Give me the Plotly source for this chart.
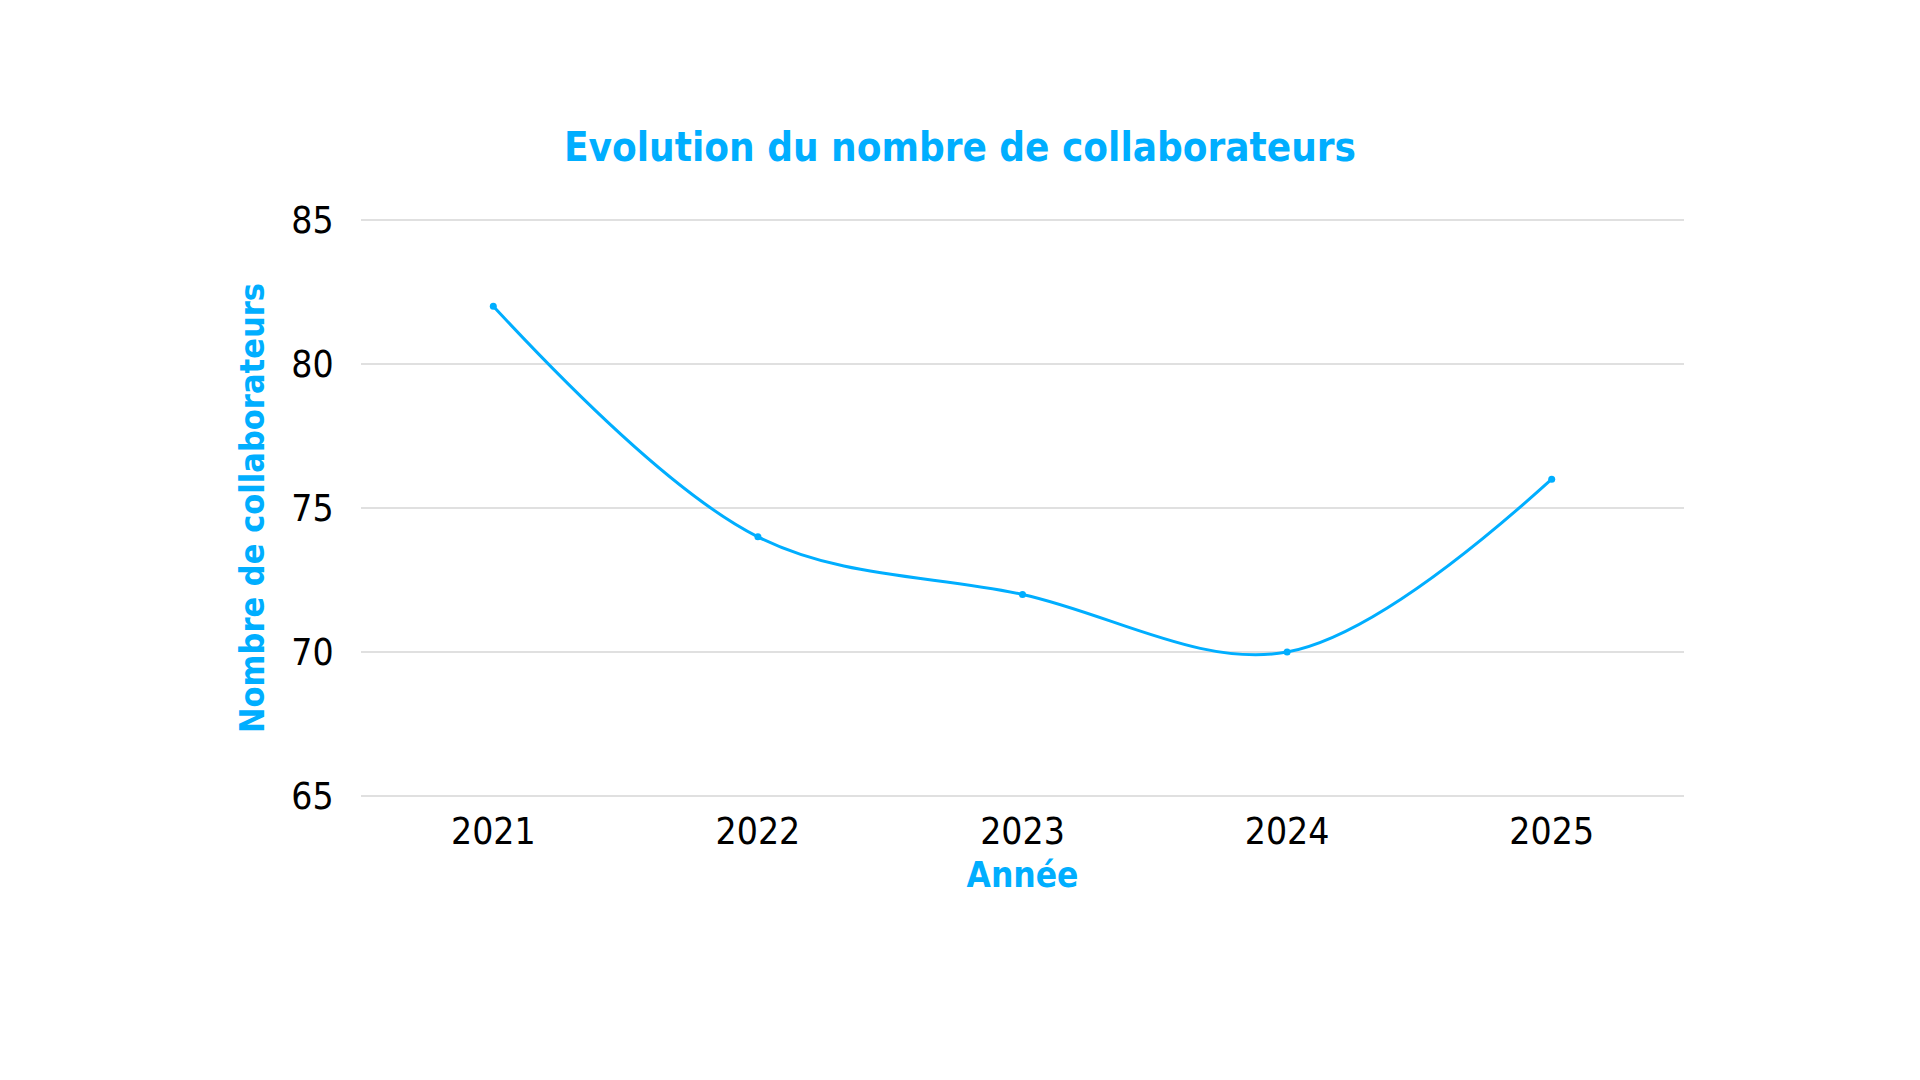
import plotly.graph_objects as go

years = ["2021", "2022", "2023", "2024", "2025"]
collaborateurs = [82, 74, 72, 70, 76]
y_ticks = [65, 70, 75, 80, 85]

BLUE = "#00AEFF"
FONT = "DejaVu Sans Condensed"

fig = go.Figure()
fig.add_trace(go.Scatter(
    x=years, y=collaborateurs,
    mode="lines+markers",
    line=dict(color=BLUE, width=3, shape="spline", smoothing=1.0),
    marker=dict(color=BLUE, size=7),
    showlegend=False,
    cliponaxis=False,
))

fig.update_layout(
    width=1920, height=1080,
    paper_bgcolor="white", plot_bgcolor="white",
    margin=dict(l=361, r=236, t=217, b=281),
    title=dict(text="<b>Evolution du nombre de collaborateurs</b>",
               x=0.5, xanchor="center", y=1 - 147 / 1080, yanchor="middle",
               font=dict(family=FONT, size=40, color=BLUE)),
    font=dict(family=FONT, color="black"),
    xaxis=dict(
        type="category",
        range=[-0.5, 4.5],
        showgrid=False, zeroline=False, showline=False,
        ticks="outside", ticklen=0, tickcolor="rgba(0,0,0,0)",
        tickfont=dict(family=FONT, size=37, color="black"),
        title=dict(text="<b>Année</b>", font=dict(family=FONT, size=35, color=BLUE), standoff=10),
    ),
    yaxis=dict(
        range=[64.9, 85.1],
        tickvals=y_ticks,
        showgrid=True, gridcolor="#e0e0e0", gridwidth=1.5,
        zeroline=False, showline=False,
        ticks="outside", ticklen=19, tickcolor="rgba(0,0,0,0)",
        tickfont=dict(family=FONT, size=37, color="black"),
        title=dict(text="<b>Nombre de collaborateurs</b>", font=dict(family=FONT, size=34, color=BLUE), standoff=16),
    ),
)

fig.write_html("out.html")
